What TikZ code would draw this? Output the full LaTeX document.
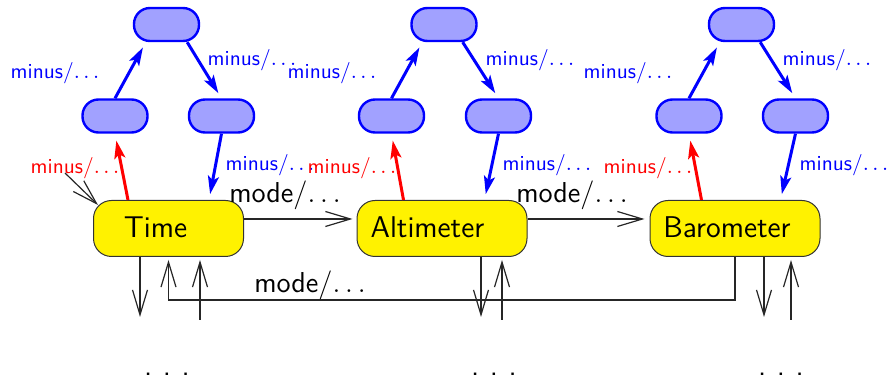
\documentclass[tikz,border=0pt]{standalone}
\usetikzlibrary{arrows.meta,calc}
\begin{document}
\begin{tikzpicture}[x=0.5pt,y=-0.5pt,
  font=\sffamily,
  state/.style={draw=black!80, line width=0.5pt, fill=yellow, rounded corners=9pt,
    minimum width=75pt, minimum height=28pt, inner sep=0pt},
  sub/.style={draw=blue, line width=1.2pt, fill=blue!37, rounded corners=8pt,
    minimum width=32.5pt, minimum height=16.5pt, inner sep=0pt},
  statetext/.style={font=\sffamily\fontsize{15}{18}\selectfont, anchor=base, inner sep=0pt},
  minuslbl/.style={font=\sffamily\fontsize{10.7}{13}\selectfont, inner sep=0pt},
  modelbl/.style={font=\sffamily\fontsize{14.4}{17}\selectfont, inner sep=0pt},
  dotlbl/.style={font=\sffamily\fontsize{15}{18}\selectfont, anchor=base, inner sep=0pt},
  garr/.style={draw=black!85, line width=0.6pt, -{Straight Barb[length=12.5pt,width=7.5pt]}},
  barr/.style={draw=blue, line width=1.5pt, -{Stealth[length=9pt,width=5.5pt,inset=2pt]}, shorten >=3pt},
  rarr/.style={draw=red, line width=1.5pt, -{Stealth[length=9pt,width=5.5pt,inset=2pt]}, shorten >=3.5pt},
]
\useasboundingbox (0,0) rectangle (891,379);

% main states
\node[state] (t) at (168.5,228.5) {};
\node[statetext] (tt) at (155.5,238) {Time};
\node[state, minimum width=85pt] (a) at (442,228.5) {};
\node[statetext] (at) at (427.5,238) {Altimeter};
\node[state, minimum width=85pt] (b) at (735,228.5) {};
\node[statetext] (bt) at (727,238) {Barometer};

% sub-state trees
\node[sub] (u1) at (166.5,24.5) {};
\node[sub] (l1) at (115,116) {};
\node[sub] (r1) at (221.5,116) {};
\node[sub] (u2) at (444,24.5) {};
\node[sub] (l2) at (391.5,116) {};
\node[sub] (r2) at (498.5,116) {};
\node[sub] (u3) at (741.5,24.5) {};
\node[sub] (l3) at (689,116) {};
\node[sub] (r3) at (795.5,116) {};

% tree transitions
\draw[barr] (l1.north) -- ($(u1.south west)+(13,0)$);
\draw[barr] ($(u1.south east)+(-13,0)$) -- (r1.north);
\draw[barr] (r1.south) -- ($(t.north east)+(-35,0)$);
\draw[rarr] ($(t.north west)+(35,0)$) -- (l1.south);

\draw[barr] (l2.north) -- ($(u2.south west)+(12,0)$);
\draw[barr] ($(u2.south east)+(-15,0)$) -- (r2.north);
\draw[barr] (r2.south) -- ($(a.north east)+(-43,0)$);
\draw[rarr] ($(a.north west)+(47,0)$) -- (l2.south);

\draw[barr] (l3.north) -- ($(u3.south west)+(12,0)$);
\draw[barr] ($(u3.south east)+(-15,0)$) -- (r3.north);
\draw[barr] (r3.south) -- ($(b.north east)+(-40,0)$);
\draw[rarr] ($(b.north west)+(52,0)$) -- (l3.south);

% transition labels
\node[minuslbl, blue] (m1l) at (55,73) {minus/$\ldots$};
\node[minuslbl, blue] (m1r) at (252,60) {minus/$\ldots$};
\node[minuslbl, red]  (m1d) at (75,168) {minus/$\ldots$};
\node[minuslbl, blue] (m1b) at (270,165) {minus/$\ldots$};
\node[minuslbl, blue] (m2l) at (332,73) {minus/$\ldots$};
\node[minuslbl, blue] (m2r) at (530,60) {minus/$\ldots$};
\node[minuslbl, red]  (m2d) at (352,168) {minus/$\ldots$};
\node[minuslbl, blue] (m2b) at (547,165) {minus/$\ldots$};
\node[minuslbl, blue] (m3l) at (628,73) {minus/$\ldots$};
\node[minuslbl, blue] (m3r) at (827,60) {minus/$\ldots$};
\node[minuslbl, red]  (m3d) at (648,168) {minus/$\ldots$};
\node[minuslbl, blue] (m3b) at (844,165) {minus/$\ldots$};

% mode transitions
\draw[garr, shorten >=2pt] ($(t.east)+(0,-9.5)$) -- ($(a.west)+(0,-9.5)$);
\draw[garr, shorten >=2.5pt] ($(a.east)+(0,-9.5)$) -- ($(b.west)+(0,-9.5)$);
\coordinate (fb) at (450,300);
\draw[garr, shorten >=1.5pt] (b.south) |- (fb) -| (t.south);
\node[modelbl] (mo1) at (285,195) {mode/$\ldots$};
\node[modelbl] (mo2) at (572,195) {mode/$\ldots$};
\node[modelbl] (mo3) at (310,285) {mode/$\ldots$};

% initial marker
\coordinate (init) at (65,173);
\draw[garr] (init) -- ($(t.north west)+(5,5)$);

% loose ends below each state
\coordinate (td) at (140,317);
\coordinate (tu) at (200,320);
\coordinate (ad) at (481,317);
\coordinate (au) at (502,320);
\coordinate (bd) at (764,317);
\coordinate (bu) at (791,320);
\draw[garr] (t.south -| td) -- (td);
\draw[garr, shorten >=1.5pt] (tu) -- (t.south -| tu);
\draw[garr] (a.south -| ad) -- (ad);
\draw[garr, shorten >=1.5pt] (au) -- (a.south -| au);
\draw[garr] (b.south -| bd) -- (bd);
\draw[garr, shorten >=1.5pt] (bu) -- (b.south -| bu);

% continuation dots
\node[dotlbl] (d1) at (167,376) {.\hspace{5.3pt}.\hspace{5.3pt}.};
\node[dotlbl] (d2) at (494,376) {.\hspace{5.3pt}.\hspace{5.3pt}.};
\node[dotlbl] (d3) at (781,376) {.\hspace{5.3pt}.\hspace{5.3pt}.};
\end{tikzpicture}
\end{document}
